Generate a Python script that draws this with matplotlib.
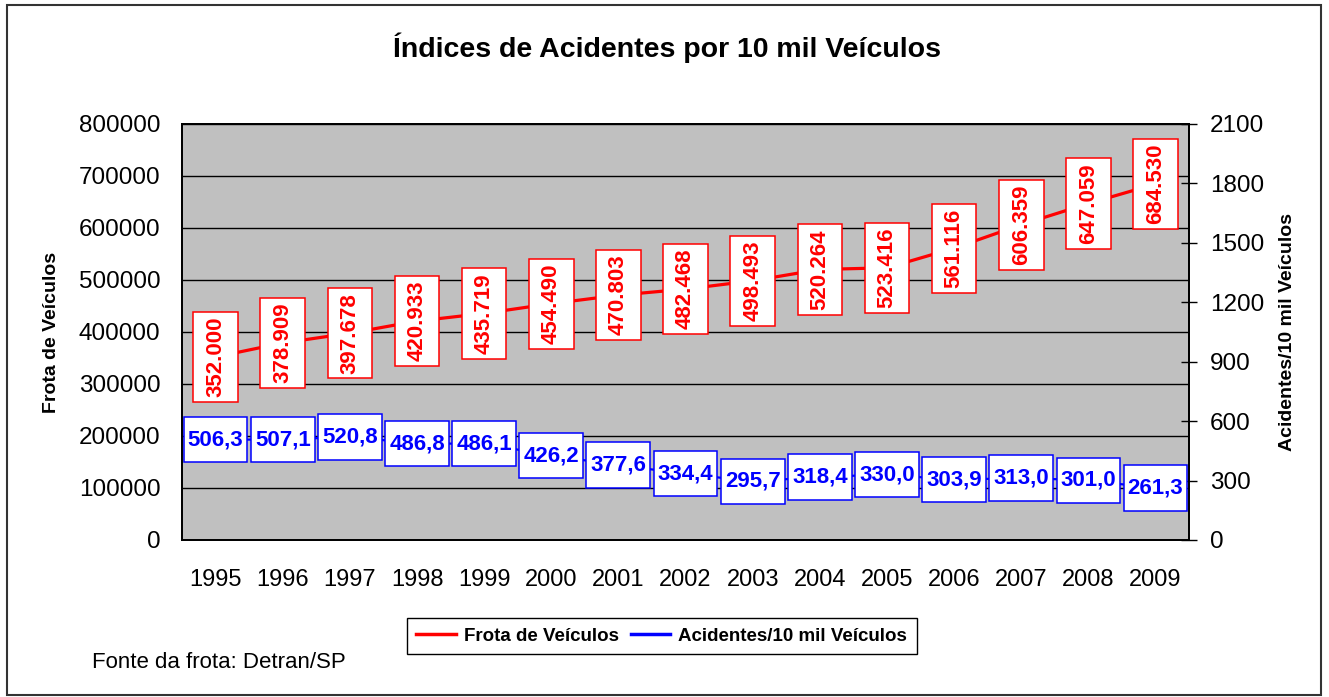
import matplotlib
matplotlib.use("Agg")
import matplotlib.pyplot as plt
from matplotlib.path import Path
from matplotlib.patches import Rectangle

plt.rcParams['font.family'] = ['Liberation Sans', 'DejaVu Sans']

# dados
anos = ['1995', '1996', '1997', '1998', '1999', '2000', '2001', '2002',
        '2003', '2004', '2005', '2006', '2007', '2008', '2009']
frota = [352000, 378909, 397678, 420933, 435719, 454490, 470803, 482468,
         498493, 520264, 523416, 561116, 606359, 647059, 684530]
acidentes = [506.3, 507.1, 520.8, 486.8, 486.1, 426.2, 377.6, 334.4,
             295.7, 318.4, 330.0, 303.9, 313.0, 301.0, 261.3]

VERMELHO = '#FF0000'
AZUL = '#0000FF'


def caixa(padx, pady):
    # caixa retangular com margens diferentes na largura e na altura
    def estilo(x0, y0, w, h, m):
        px, py = padx * m, pady * m
        xa, ya, xb, yb = x0 - px, y0 - py, x0 + w + px, y0 + h + py
        return Path([(xa, ya), (xb, ya), (xb, yb), (xa, yb), (xa, ya)], closed=True)
    return estilo


fig = plt.figure(figsize=(13.29, 6.97), dpi=100)
ax = fig.add_axes([0.137, 0.2253, 0.7577, 0.5968])
ax2 = ax.twinx()

x = list(range(len(anos)))

ax.set_facecolor('#C0C0C0')
ax.set_axisbelow(True)
ax.yaxis.grid(True, color='black', linewidth=1)
l1, = ax.plot(x, frota, color=VERMELHO, linewidth=2.3, label='Frota de Veículos', zorder=2)
l2, = ax2.plot(x, acidentes, color=AZUL, linewidth=1.6, label='Acidentes/10 mil Veículos', zorder=2)

ax.set_xlim(-0.5, len(anos) - 0.5)
ax.set_ylim(0, 800000)
ax.set_yticks(range(0, 800001, 100000))
ax2.set_ylim(0, 2100)
ax2.set_yticks(range(0, 2101, 300))
ax.set_xticks(x)
ax.set_xticklabels(anos)

ax.tick_params(axis='y', length=0, labelsize=17.5, pad=15.5)
ax.tick_params(axis='x', length=0, labelsize=17, pad=21)
ax2.tick_params(axis='y', direction='inout', length=11, width=1, labelsize=17.5, pad=9.5)

for a in (ax, ax2):
    for s in a.spines.values():
        s.set_linewidth(1.3)
        s.set_color('black')

for xi, v in zip(x, frota):
    ax.text(xi, v, f"{v:,}".replace(",", "."), rotation=90, ha='center', va='center',
            color=VERMELHO, fontsize=16, fontweight='bold', zorder=5,
            bbox=dict(boxstyle=caixa(0.22, 0.53), facecolor='white', edgecolor=VERMELHO, linewidth=1.1))

for xi, v in zip(x, acidentes):
    ax2.text(xi, v, f"{v:.1f}".replace(".", ","), ha='center', va='center',
             color=AZUL, fontsize=16, fontweight='bold', zorder=5,
             bbox=dict(boxstyle=caixa(0.18, 0.55), facecolor='white', edgecolor=AZUL, linewidth=1.1))

fig.text(0.0384, 0.5235, 'Frota de Veículos', rotation=90, ha='center', va='center',
         fontsize=14, fontweight='bold')
fig.text(0.9684, 0.5235, 'Acidentes/10 mil Veículos', rotation=90, ha='center', va='center',
         fontsize=14, fontweight='bold')

fig.text(0.502, 0.931, 'Índices de Acidentes por 10 mil Veículos', ha='center', va='center',
         fontsize=20.5, fontweight='bold')

leg = fig.legend(handles=[l1, l2], loc='center', bbox_to_anchor=(0.498, 0.0875), ncol=2,
                 fancybox=False, edgecolor='black', framealpha=1, borderpad=0.5,
                 handlelength=2.1, handletextpad=0.45, columnspacing=0.6,
                 prop={'weight': 'bold', 'size': 13.5})
leg.get_frame().set_linewidth(1)
for h in leg.legend_handles:
    h.set_linewidth(2.5)

fig.text(0.069, 0.049, 'Fonte da frota: Detran/SP', ha='left', va='center', fontsize=16)

fig.patches.append(Rectangle((0.0053, 0.003), 0.9887, 0.99, transform=fig.transFigure,
                             fill=False, edgecolor='#333333', linewidth=1.5))

fig.savefig('out.png', dpi=100)
